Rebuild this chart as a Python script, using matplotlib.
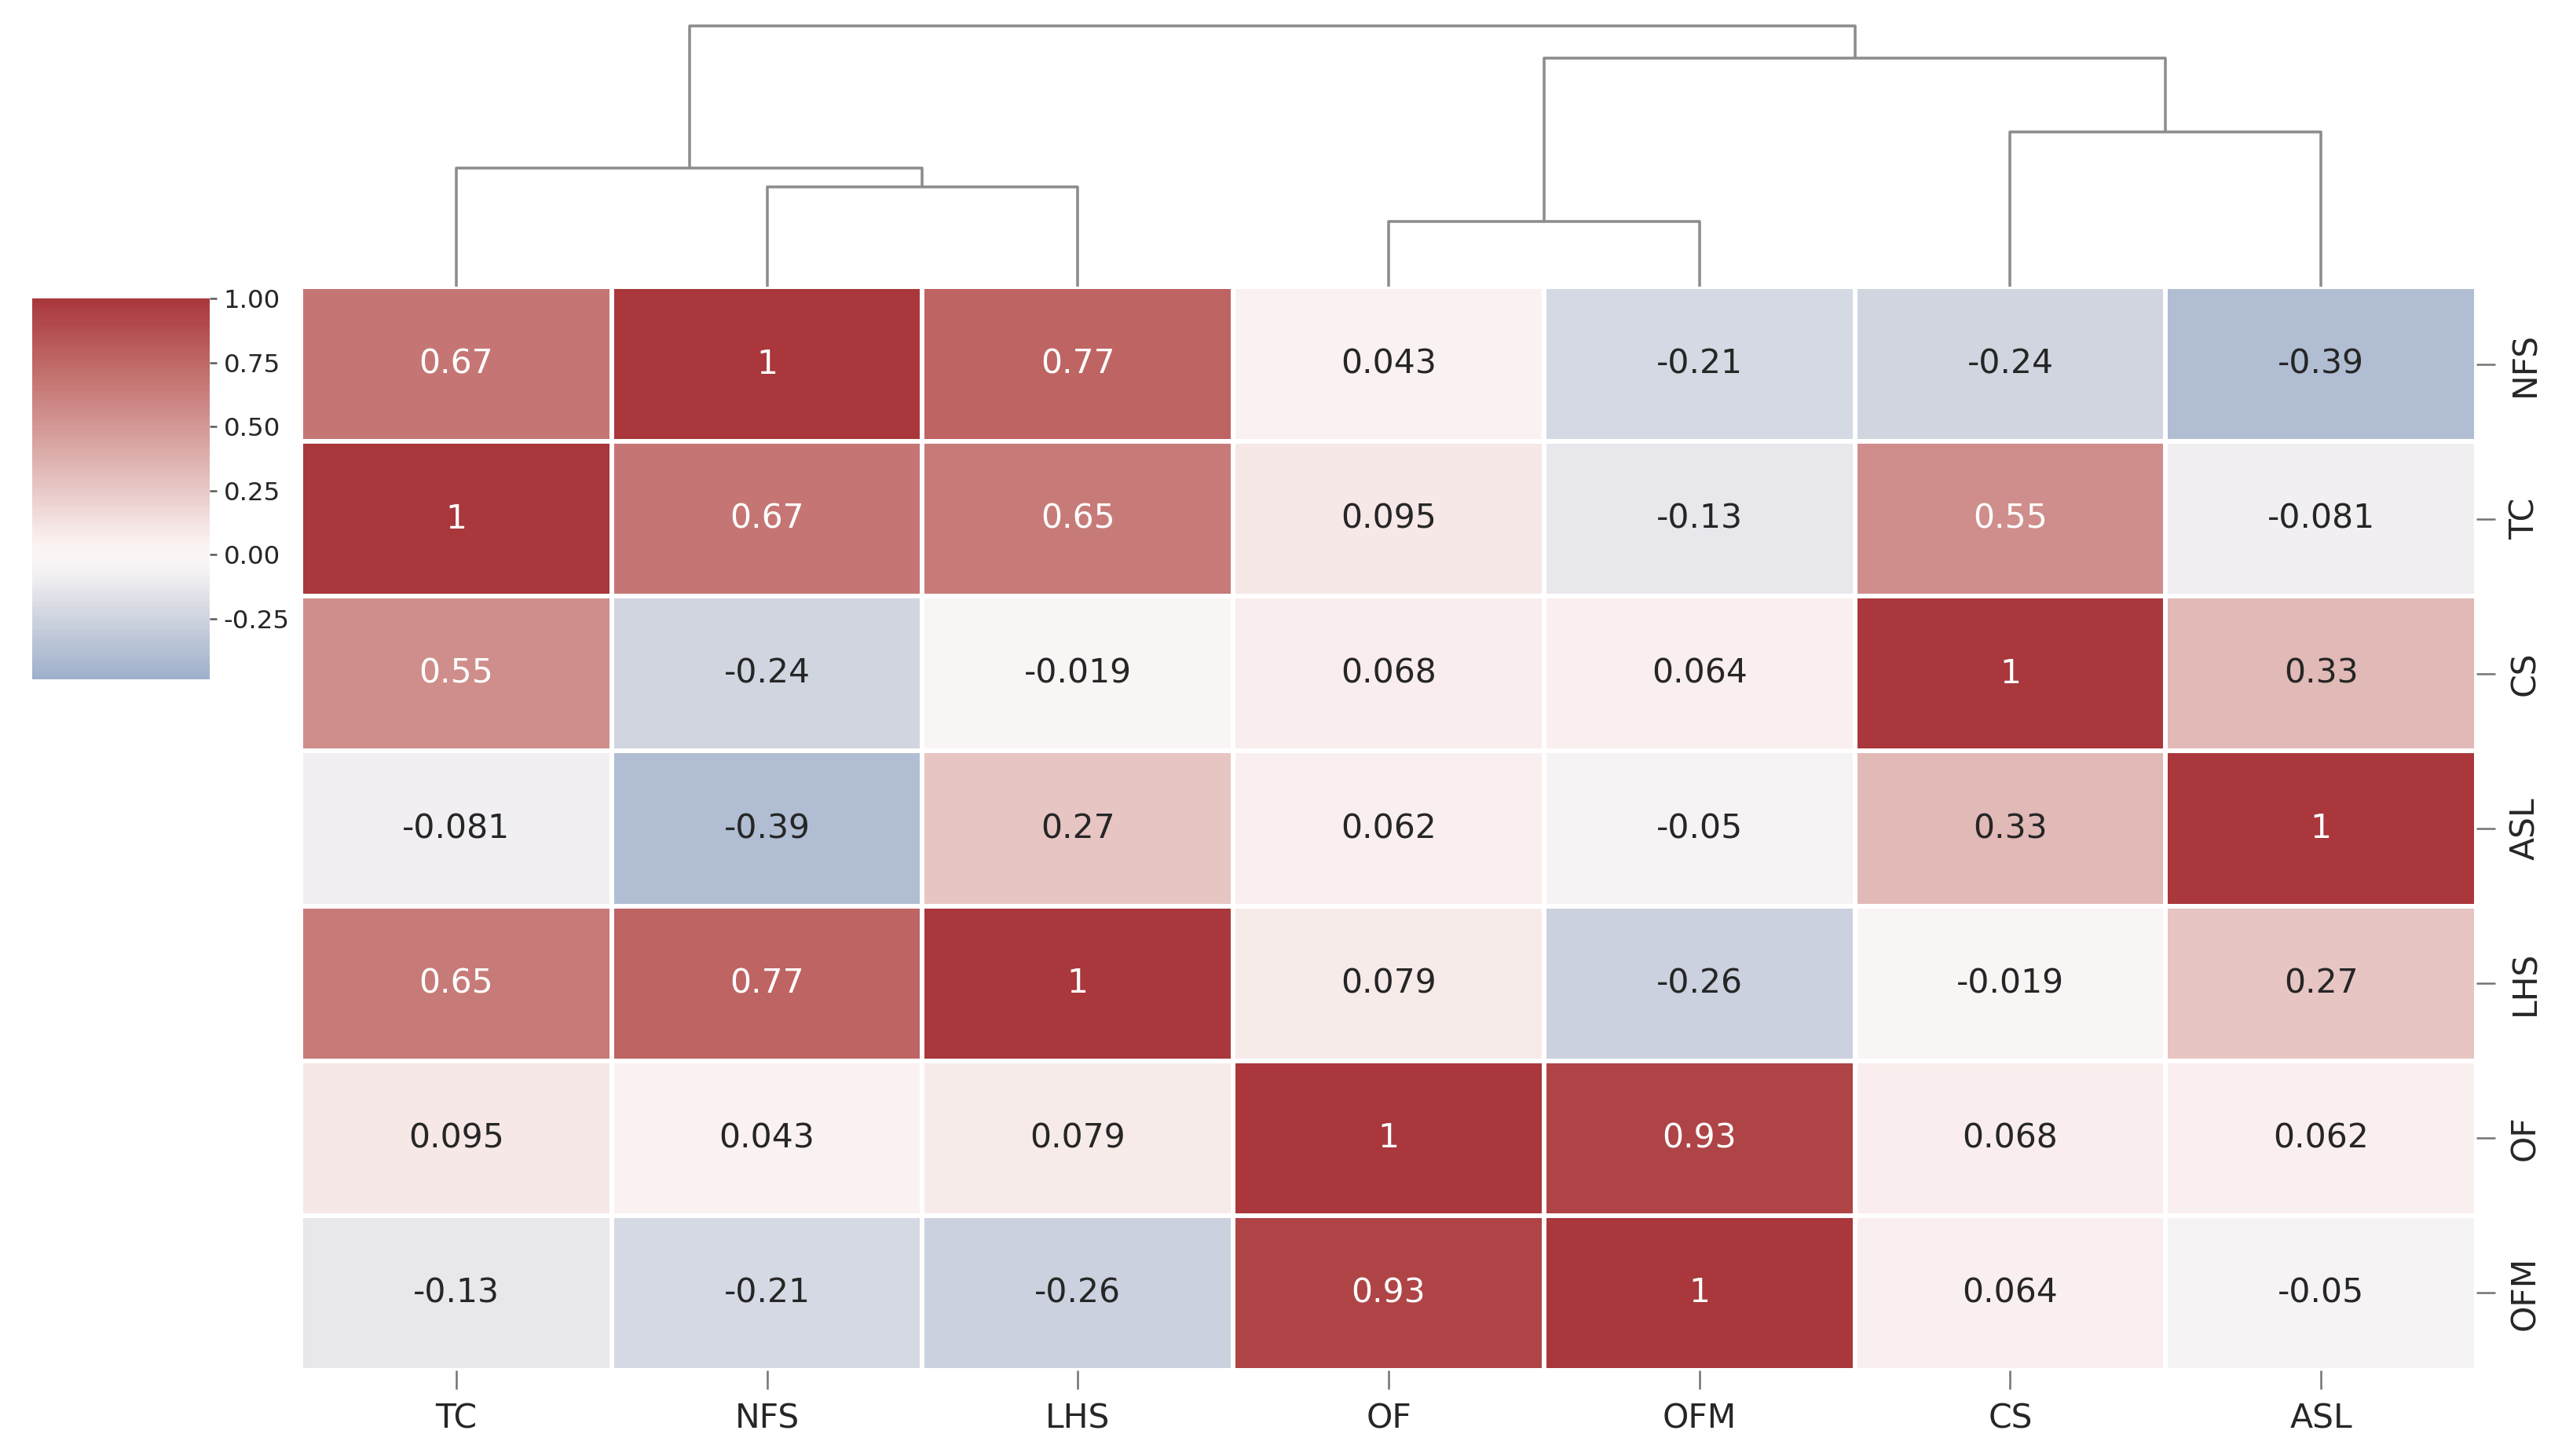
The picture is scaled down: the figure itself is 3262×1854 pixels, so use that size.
import numpy as np
import pandas as pd
import matplotlib
matplotlib.use("Agg")
import matplotlib.pyplot as plt
import seaborn as sns
from matplotlib.collections import LineCollection

# correlation matrix, rows in original order
labels = ["NFS", "TC", "CS", "ASL", "LHS", "OF", "OFM"]
nfs = [1, 0.67, -0.24, -0.39, 0.77, 0.043, -0.21]
tc = [0.67, 1, 0.55, -0.081, 0.65, 0.095, -0.13]
cs = [-0.24, 0.55, 1, 0.33, -0.019, 0.068, 0.064]
asl = [-0.39, -0.081, 0.33, 1, 0.27, 0.062, -0.05]
lhs = [0.77, 0.65, -0.019, 0.27, 1, 0.079, -0.26]
of = [0.043, 0.095, 0.068, 0.062, 0.079, 1, 0.93]
ofm = [-0.21, -0.13, 0.064, -0.05, -0.26, 0.93, 1]

corr = pd.DataFrame([nfs, tc, cs, asl, lhs, of, ofm], index=labels, columns=labels)

sns.set_style("ticks")
plt.rcParams["font.family"] = ["DejaVu Sans"]
plt.rcParams["axes.unicode_minus"] = False


def average_linkage(X):
    # UPGMA on euclidean distances (what clustermap does by default)
    n = len(X)
    D = np.sqrt(((X[:, None, :] - X[None, :, :]) ** 2).sum(-1))
    members = {i: [i] for i in range(n)}
    active = list(range(n))
    merges = []
    nxt = n
    while len(active) > 1:
        best = None
        for i, a in enumerate(active):
            for b in active[i + 1:]:
                d = D[np.ix_(members[a], members[b])].mean()
                if best is None or d < best[2]:
                    best = (a, b, d)
        a, b, d = best
        merges.append((min(a, b), max(a, b), d))
        members[nxt] = members[a] + members[b]
        active = [c for c in active if c not in (a, b)] + [nxt]
        nxt += 1
    return merges


def dendro_segments(merges, n):
    def leaves(c):
        if c < n:
            return [c]
        a, b, _ = merges[c - n]
        return leaves(a) + leaves(b)

    order = leaves(n + len(merges) - 1)
    pos = {c: 5 + 10 * i for i, c in enumerate(order)}
    height = {c: 0.0 for c in range(n)}
    segs = []
    for k, (a, b, d) in enumerate(merges):
        c = n + k
        pos[c] = (pos[a] + pos[b]) / 2
        height[c] = d
        segs.append([(pos[a], height[a]), (pos[a], d), (pos[b], d), (pos[b], height[b])])
    return order, segs, max(height.values())


merges = average_linkage(corr.T.values)
order, segs, top = dendro_segments(merges, len(labels))
data = corr.iloc[:, order]

fig = plt.figure(figsize=(3262 / 300, 1854 / 300), dpi=300)
ax_heat = fig.add_axes([0.1174, 0.0588, 0.8492, 0.7443])
ax_den = fig.add_axes([0.1174, 0.8031, 0.8492, 0.1883])
cax = fig.add_axes([0.0126, 0.5334, 0.0693, 0.2616])

sns.heatmap(data, ax=ax_heat, cbar_ax=cax, cmap="vlag", center=0, vmin=-0.486, vmax=1,
            annot=True, annot_kws={"size": 10.2}, linewidths=1, linecolor="white")

ax_heat.yaxis.tick_right()
ax_heat.set_yticklabels(data.index, rotation=90, va="center")
ax_heat.set_xticklabels(data.columns, rotation=0)
ax_heat.tick_params(axis="both", length=5.8, width=0.6, color="0.45", labelsize=10.2, pad=4)
ax_heat.set_xlabel("")
ax_heat.set_ylabel("")

cax.tick_params(labelsize=7.8, length=2.2, width=0.6, pad=2, color="0.35")

ax_den.add_collection(LineCollection(segs, colors="0.55", linewidths=0.85))
ax_den.set_xlim(0, 10 * len(labels))
ax_den.set_ylim(0, top * 1.05)
ax_den.axis("off")

fig.savefig("out.png", dpi=300)
